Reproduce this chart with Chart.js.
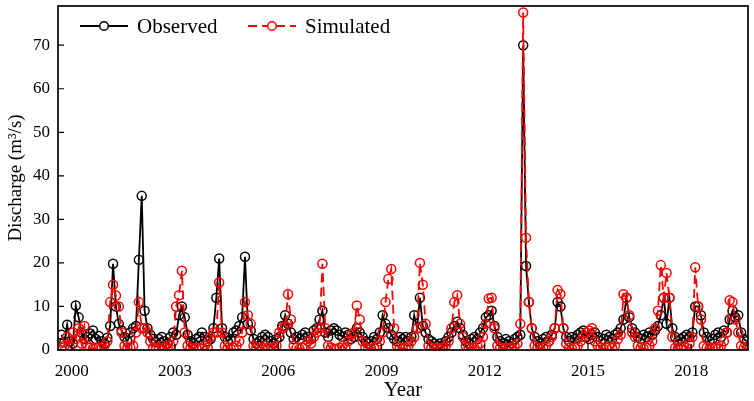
<!DOCTYPE html>
<html>
<head>
<meta charset="utf-8">
<script src="https://cdn.jsdelivr.net/npm/chart.js@4.4.0/dist/chart.umd.min.js"></script>
<style>
  html, body { margin: 0; padding: 0; background: #fff; }
  #wrap { width: 754px; height: 401px; }
</style>
</head>
<body>
<div id="wrap"><canvas id="chart"></canvas></div>
<script>
// monthly discharge, first sample sits just left of the 2000 tick
const firstMonth = 1999.7;

const observed = [
  3.5, 1.8, 5.8, 2.0, 1.5, 10.2, 7.5, 4.0, 2.5, 3.0, 3.8, 4.5,
  2.5, 3.2, 2.0, 1.5, 2.8, 5.5, 19.8, 10.0, 6.0, 4.5, 3.0, 2.0,
  4.0, 5.0, 5.5, 20.7, 35.4, 9.0, 5.0, 3.5, 2.5, 1.8, 2.5, 3.0,
  2.0, 1.5, 3.0, 4.0, 3.5, 8.0, 10.0, 7.5, 3.5, 2.0, 1.5, 2.5,
  3.0, 4.0, 3.0, 2.0, 2.5, 5.0, 12.0, 21.0, 5.0, 3.0, 2.0, 2.5,
  4.0, 4.5, 5.5, 7.5, 21.4, 6.0, 4.5, 2.5, 1.5, 2.0, 3.0, 3.5,
  3.0, 2.0, 1.5, 2.5, 3.0, 5.5, 8.0, 6.0, 4.0, 2.5, 3.0, 2.5,
  3.5, 4.0, 3.0, 2.5, 4.5, 5.0, 7.0, 9.0, 4.0, 3.0, 4.5, 5.0,
  4.5, 3.5, 3.0, 4.0, 3.5, 2.5, 3.0, 5.0, 4.0, 3.0, 2.0, 1.5,
  2.0, 3.0, 2.5, 4.0, 8.0, 6.0, 5.0, 3.5, 2.5, 2.0, 3.0, 2.5,
  3.0, 2.0, 3.0, 8.0, 5.0, 12.0, 5.5, 4.0, 2.5, 2.0, 1.5, 1.0,
  1.5, 1.0, 2.0, 3.0, 4.0, 5.5, 6.5, 5.0, 3.5, 2.0, 1.5, 2.5,
  3.0, 2.5, 4.0, 5.0, 7.5, 8.0, 9.0, 5.5, 3.0, 2.0, 1.5, 2.5,
  2.0, 1.5, 2.5, 3.0, 3.5, 70.0, 19.3, 11.0, 5.0, 3.0, 2.0, 1.5,
  2.5, 3.0, 2.0, 3.5, 5.0, 11.0, 10.0, 5.0, 3.0, 2.0, 3.0, 2.5,
  3.5, 4.0, 4.5, 3.0, 2.5, 3.5, 4.0, 3.0, 2.0, 2.5, 3.5, 3.0,
  2.5, 3.5, 4.0, 5.0, 7.0, 12.0, 7.5, 5.0, 4.0, 3.0, 2.5, 3.5,
  3.0, 4.0, 3.5, 4.5, 5.5, 8.0, 12.0, 6.0, 12.0, 5.0, 3.0, 2.0,
  2.5, 3.0, 3.5, 3.0, 4.0, 10.0, 10.0, 8.0, 4.0, 3.0, 2.0, 2.5,
  3.5, 4.0, 3.0, 4.5, 4.0, 7.0, 9.0, 7.5, 8.0, 4.0, 2.5, 2.0
];

const simulated = [
  0.5, 1.0, 3.0, 0.5, 4.0, 2.5, 5.0, 1.5, 5.5, 1.0, 0.5, 0.3,
  0.5, 0.5, 0.3, 1.0, 2.0, 11.0, 15.0, 12.5, 10.0, 4.0, 1.0, 0.5,
  0.5, 1.0, 4.0, 11.0, 5.0, 5.0, 4.0, 2.0, 0.5, 0.3, 0.5, 1.0,
  0.5, 0.3, 1.0, 2.0, 10.0, 12.6, 18.2, 4.0, 1.0, 0.5, 0.3, 0.5,
  0.5, 0.3, 1.0, 0.5, 3.0, 4.0, 4.0, 15.5, 4.0, 1.0, 0.5, 0.3,
  0.5, 1.0, 2.0, 4.0, 11.0, 8.0, 6.0, 1.0, 0.5, 0.3, 0.5, 1.0,
  0.5, 0.3, 0.5, 1.0, 4.0, 5.0, 5.5, 12.8, 7.0, 1.0, 0.5, 0.3,
  0.5, 1.0, 2.0, 1.5, 3.0, 4.0, 5.0, 19.8, 5.0, 1.0, 0.5, 0.3,
  0.3, 0.5, 1.0, 0.5, 2.0, 3.5, 4.0, 10.2, 7.0, 2.0, 0.5, 0.3,
  0.3, 0.5, 1.0, 2.0, 4.0, 11.0, 16.3, 18.6, 5.0, 1.0, 0.5, 0.3,
  0.5, 1.0, 2.0, 3.0, 5.0, 20.0, 15.0, 6.0, 1.0, 0.5, 0.3, 0.5,
  0.3, 0.5, 1.0, 2.0, 5.0, 11.0, 12.6, 6.0, 3.0, 1.0, 0.5, 0.3,
  0.5, 1.0, 1.5, 3.0, 6.0, 11.8, 12.0, 5.0, 1.0, 0.5, 0.3, 0.5,
  0.3, 0.5, 1.0, 1.5, 6.0, 77.5, 25.8, 11.0, 5.0, 1.0, 0.5, 0.3,
  0.5, 1.0, 2.0, 3.0, 5.0, 13.8, 12.8, 5.0, 1.5, 0.5, 0.3, 0.5,
  1.0, 2.0, 3.0, 4.0, 4.5, 5.0, 2.0, 1.0, 0.5, 0.3, 0.5, 1.0,
  0.5, 1.0, 2.5, 3.5, 12.8, 12.0, 8.0, 4.0, 3.0, 1.0, 0.5, 0.3,
  0.5, 1.0, 2.0, 5.0, 9.0, 19.5, 12.0, 17.7, 12.0, 3.0, 0.5, 0.3,
  0.5, 1.0, 0.5, 1.5, 3.0, 19.0, 10.0, 7.0, 1.0, 0.5, 0.3, 0.5,
  0.5, 0.3, 1.0, 2.0, 4.0, 11.4, 11.0, 7.0, 4.0, 1.0, 0.5, 0.3
];

const yearTicks = [2000, 2003, 2006, 2009, 2012, 2015, 2018];
const dischargeTicks = [0, 10, 20, 30, 40, 50, 60, 70];

const toPoints = (arr) => arr.map((v, i) => ({ x: firstMonth + i / 12, y: v }));

const serif = '"Liberation Serif", "Times New Roman", serif';
Chart.defaults.font.family = serif;
Chart.defaults.color = '#000';

// box round the plot, inward ticks and the legend inside the plot
const framePlugin = {
  id: 'frame',
  afterDraw(chart) {
    const { ctx, chartArea: a, scales: { x, y } } = chart;
    ctx.save();
    ctx.strokeStyle = '#000';
    ctx.lineWidth = 1.7;
    ctx.strokeRect(a.left, a.top, a.right - a.left, a.bottom - a.top);

    ctx.lineWidth = 1.2;
    ctx.beginPath();
    y.ticks.forEach(t => {
      const py = y.getPixelForValue(t.value);
      ctx.moveTo(a.left, py);
      ctx.lineTo(a.left + 6, py);
    });
    x.ticks.forEach(t => {
      const px = x.getPixelForValue(t.value);
      ctx.moveTo(px, a.bottom);
      ctx.lineTo(px, a.bottom - 6);
    });
    ctx.stroke();

    // legend
    const ly = a.top + 20;
    const items = [
      { x0: a.left + 22, label: 'Observed', color: '#000', dash: [] },
      { x0: a.left + 190, label: 'Simulated', color: '#ff0000', dash: [9, 5] }
    ];
    ctx.font = '21px ' + serif;
    ctx.textBaseline = 'middle';
    items.forEach(it => {
      ctx.strokeStyle = it.color;
      ctx.lineWidth = 1.8;
      ctx.setLineDash(it.dash);
      ctx.beginPath();
      ctx.moveTo(it.x0, ly);
      ctx.lineTo(it.x0 + 48, ly);
      ctx.stroke();
      ctx.setLineDash([]);
      ctx.beginPath();
      ctx.arc(it.x0 + 24, ly, 4.3, 0, Math.PI * 2);
      ctx.fillStyle = '#fff';
      ctx.fill();
      ctx.lineWidth = 1.5;
      ctx.stroke();
      ctx.fillStyle = '#000';
      ctx.fillText(it.label, it.x0 + 57, ly + 1);
    });
    ctx.restore();
  }
};

new Chart(document.getElementById('chart'), {
  type: 'line',
  data: {
    datasets: [
      {
        label: 'Observed',
        data: toPoints(observed),
        borderColor: '#000',
        borderWidth: 1.8,
        pointRadius: 4.5,
        pointBorderWidth: 1.5,
        pointBackgroundColor: 'rgba(255,255,255,0)',
        pointBorderColor: '#000',
        tension: 0,
        order: 2
      },
      {
        label: 'Simulated',
        data: toPoints(simulated),
        borderColor: '#ff0000',
        borderWidth: 1.8,
        borderDash: [9, 5],
        pointRadius: 4.5,
        pointBorderWidth: 1.5,
        pointBackgroundColor: 'rgba(255,255,255,0)',
        pointBorderColor: '#ff0000',
        tension: 0,
        order: 1
      }
    ]
  },
  options: {
    responsive: true,
    maintainAspectRatio: false,
    animation: false,
    layout: { padding: { top: 1, right: 0, left: 0, bottom: 0 } },
    plugins: {
      legend: { display: false },
      tooltip: { enabled: false }
    },
    scales: {
      x: {
        type: 'linear',
        min: 1999.6,
        max: 2019.65,
        grid: { display: false, drawTicks: false },
        border: { display: false },
        afterBuildTicks: (scale) => { scale.ticks = yearTicks.map(v => ({ value: v })); },
        afterFit: (scale) => {
          scale.height = 51;
          scale.paddingLeft = 0;
          scale.paddingRight = 0;
        },
        ticks: {
          font: { size: 17 },
          padding: 11,
          maxRotation: 0,
          callback: (v) => String(v)
        },
        title: {
          display: true,
          text: 'Year',
          font: { size: 21 },
          padding: { top: 0, bottom: -2 }
        }
      },
      y: {
        type: 'linear',
        min: 0,
        max: 79,
        grid: { display: false, drawTicks: false },
        border: { display: false },
        afterBuildTicks: (scale) => { scale.ticks = dischargeTicks.map(v => ({ value: v })); },
        afterFit: (scale) => {
          scale.width = 58;
          scale.paddingTop = 0;
          scale.paddingBottom = 0;
        },
        ticks: {
          font: { size: 17 },
          padding: 8
        },
        title: {
          display: true,
          text: 'Discharge (m³/s)',
          font: { size: 19 },
          padding: { top: 5, bottom: 0 }
        }
      }
    }
  },
  plugins: [framePlugin]
});
</script>
</body>
</html>
